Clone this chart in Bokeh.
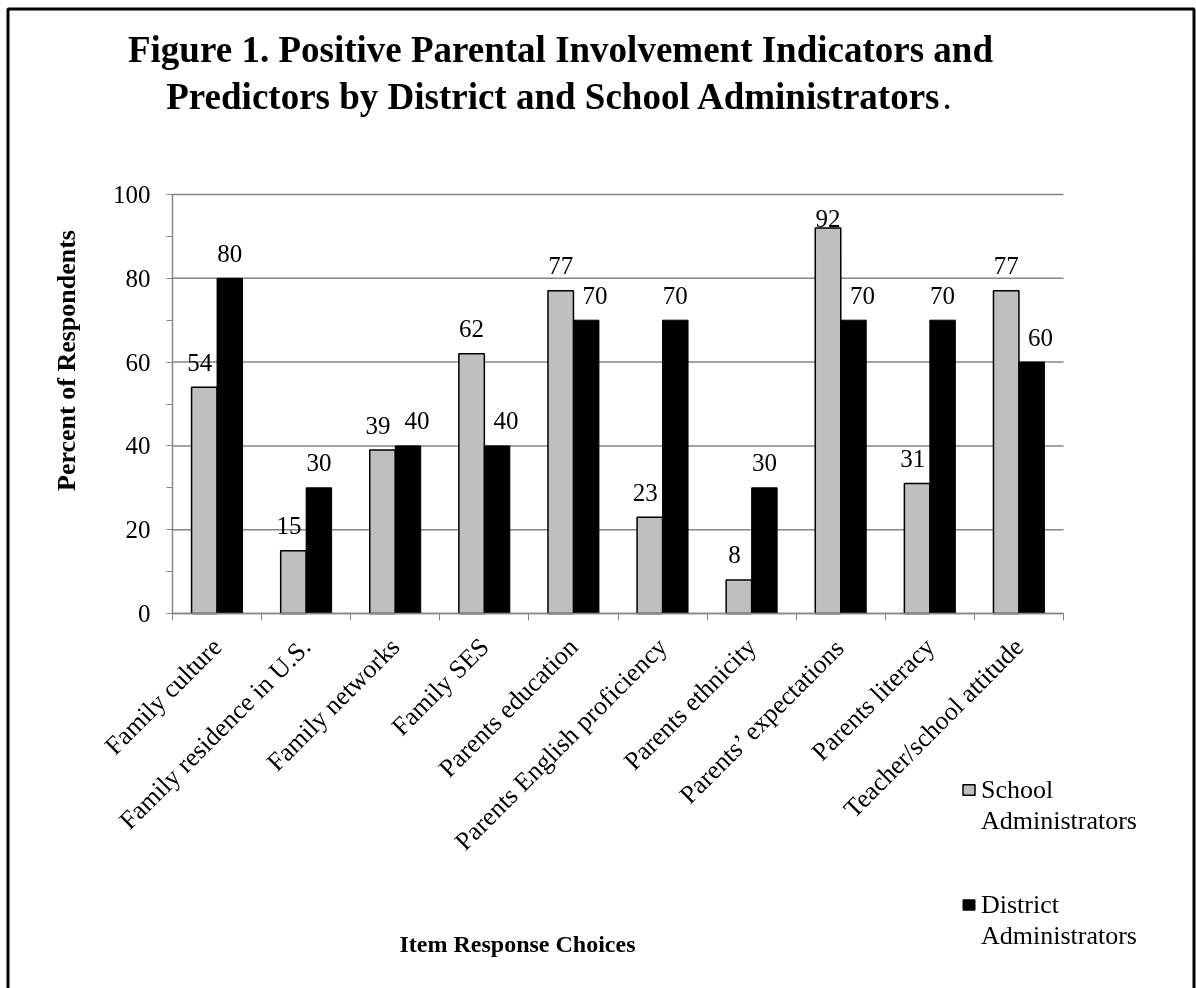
from math import pi

from bokeh.core.properties import value
from bokeh.embed import file_html
from bokeh.models import (ColumnDataSource, FixedTicker, Label, LabelSet,
                          Legend, LegendItem, Range1d)
from bokeh.plotting import figure
from bokeh.resources import INLINE
from bokeh.transform import dodge

# ---- data -------------------------------------------------------------
categories = [
    "Family culture",
    "Family residence in U.S.",
    "Family networks",
    "Family SES",
    "Parents education",
    "Parents English proficiency",
    "Parents ethnicity",
    "Parents\u2019 expectations",
    "Parents literacy",
    "Teacher/school attitude",
]
school_admins = [54, 15, 39, 62, 77, 23, 8, 92, 31, 77]
district_admins = [80, 30, 40, 40, 70, 70, 30, 70, 70, 60]
y_ticks = [0, 20, 40, 60, 80, 100]
y_minor_ticks = [10, 30, 50, 70, 90]

series_names = [("School", "Administrators"), ("District", "Administrators")]
title_line1 = "Figure 1. Positive Parental Involvement Indicators and"
title_line2 = "Predictors by District and School Administrators"
y_title = "Percent of Respondents"
x_title = "Item Response Choices"

# ---- page geometry ------------------------------------------------------
SERIF = "Liberation Serif"
GRAY_LINE = "#868686"
PAGE_W, PAGE_H = 1196, 988
AX_LEFT, AX_RIGHT, AX_TOP, AX_BOTTOM = 172, 1063, 194, 613   # plot box on page
PANEL_L, PANEL_B = 100, 300        # axis panels, kept off the visible page
N = len(categories)
XS = (AX_RIGHT - AX_LEFT) / N      # px per category
YS = (AX_BOTTOM - AX_TOP) / 100.0  # px per percent
BAR_W = 0.286


def at(px, py):
    """Page pixel -> data coordinates."""
    return (px - AX_LEFT) / XS, (AX_BOTTOM - py) / YS


x0, y1 = at(0, 0)
x1, y0 = at(PAGE_W, PAGE_H)

p = figure(
    width=PAGE_W + PANEL_L, height=PAGE_H + PANEL_B,
    x_range=Range1d(x0, x1), y_range=Range1d(y0, y1),
    output_backend="svg", toolbar_location=None, title=None,
    min_border_left=PANEL_L, min_border_right=0,
    min_border_top=0, min_border_bottom=PANEL_B,
)
p.styles = {"position": "fixed", "left": f"-{PANEL_L}px", "top": "0px"}
p.outline_line_color = None
p.background_fill_color = "white"
p.border_fill_color = "white"
p.xgrid.visible = False
p.ygrid.visible = False

centers = [i + 0.5 for i in range(N)]
label_cap = 100 - 24 / YS
lift = 25 / YS
# value labels sit above their bars; the black one steps aside when the
# neighbouring grey bar is about as tall or taller
school_shift = [-0.05 if s < d else 0.0
                for s, d in zip(school_admins, district_admins)]
district_shift = [0.1 if s >= d - 5 else 0.0
                  for s, d in zip(school_admins, district_admins)]
src = ColumnDataSource(dict(
    x=centers,
    school=school_admins,
    district=district_admins,
    school_lx=[c - BAR_W / 2 + s for c, s in zip(centers, school_shift)],
    district_lx=[c + BAR_W / 2 + s for c, s in zip(centers, district_shift)],
    school_y=[min(v + lift, label_cap) for v in school_admins],
    district_y=[min(v + lift, label_cap) for v in district_admins],
    school_txt=[str(v) for v in school_admins],
    district_txt=[str(v) for v in district_admins],
))

# ---- gridlines ----------------------------------------------------------
p.segment(x0=[0] * len(y_ticks), x1=[N] * len(y_ticks), y0=y_ticks,
          y1=y_ticks, line_color=GRAY_LINE, line_width=1.5)

# ---- axes ---------------------------------------------------------------
yax = p.yaxis[0]
yax.fixed_location = 0
yax.bounds = (0, 100)
yax.ticker = FixedTicker(ticks=y_ticks, minor_ticks=y_minor_ticks)
yax.axis_line_color = GRAY_LINE
yax.axis_line_width = 1.5
yax.major_tick_line_color = GRAY_LINE
yax.minor_tick_line_color = GRAY_LINE
yax.major_tick_in = 0
yax.major_tick_out = 6
yax.minor_tick_in = 0
yax.minor_tick_out = 6
yax.major_label_text_font = SERIF
yax.major_label_text_font_size = "25px"
yax.major_label_text_color = "black"
yax.major_label_standoff = 16

xax = p.xaxis[0]
xax.fixed_location = 0
xax.bounds = (0, N)
xax.ticker = FixedTicker(ticks=centers, minor_ticks=list(range(N + 1)))
xax.major_label_overrides = {c: name for c, name in zip(centers, categories)}
xax.major_label_orientation = pi / 4
xax.axis_line_color = GRAY_LINE
xax.axis_line_width = 1.5
xax.major_tick_line_color = None
xax.major_tick_out = 0
xax.major_tick_in = 0
xax.minor_tick_line_color = GRAY_LINE
xax.minor_tick_in = 0
xax.minor_tick_out = 7
xax.major_label_text_font = SERIF
xax.major_label_text_font_size = "26px"
xax.major_label_text_color = "black"
xax.major_label_standoff = 22

# ---- bars ---------------------------------------------------------------
r_school = p.vbar(x=dodge("x", -BAR_W / 2, range=p.x_range), top="school",
                  width=BAR_W, source=src, fill_color="#BFBFBF",
                  line_color="black", line_width=1.5)
r_district = p.vbar(x=dodge("x", BAR_W / 2, range=p.x_range), top="district",
                    width=BAR_W, source=src, fill_color="black",
                    line_color="black", line_width=1)
# swatch-less renderer for the second line of each legend entry
r_blank = p.vbar(x=[], top=[], width=BAR_W, fill_alpha=0, line_alpha=0)

label_style = dict(text_font=value(SERIF), text_font_size="25px",
                   text_color="black", text_align="center",
                   text_baseline="middle")
p.add_layout(LabelSet(x="school_lx", y="school_y", text="school_txt",
                      source=src, **label_style))
p.add_layout(LabelSet(x="district_lx", y="district_y", text="district_txt",
                      source=src, **label_style))

# ---- titles -------------------------------------------------------------
def add_text(px, py, text, size, bold=False, align="center",
             baseline="middle", angle=0.0):
    x, y = at(px, py)
    p.add_layout(Label(x=x, y=y, text=text, angle=angle, text_font=SERIF,
                       text_font_size=size, text_color="black",
                       text_font_style="bold" if bold else "normal",
                       text_align=align, text_baseline=baseline))


add_text(560, 49, title_line1, "37px", bold=True)
add_text(941, 96, title_line2, "37px", bold=True, align="right")
add_text(942, 96, ".", "37px", align="left")
add_text(66, 360, y_title, "26px", bold=True, angle=pi / 2)
add_text(517, 943, x_title, "24px", bold=True)

# ---- legend -------------------------------------------------------------
legend_style = dict(
    orientation="vertical", glyph_width=15, glyph_height=13,
    label_standoff=5, spacing=0, padding=0, margin=0, label_height=31,
    label_text_font=SERIF, label_text_font_size="26px",
    label_text_color="black", label_text_line_height=1.15,
    border_line_color=None, background_fill_alpha=0,
)
for renderer, (first, second), bottom in zip(
        [r_school, r_district], series_names, [836, 951]):
    p.add_layout(Legend(
        items=[LegendItem(label=first, renderers=[renderer]),
               LegendItem(label=second, renderers=[r_blank])],
        location=(961, PAGE_H - bottom), **legend_style))

# ---- page frame ---------------------------------------------------------
bl, bt = at(7.5, 8.5)
br, bb = at(1193.5, 995)
p.quad(left=[bl], right=[br], top=[bt], bottom=[bb], fill_color=None,
       line_color="black", line_width=3)

open("out.html", "w").write(file_html(p, INLINE))
